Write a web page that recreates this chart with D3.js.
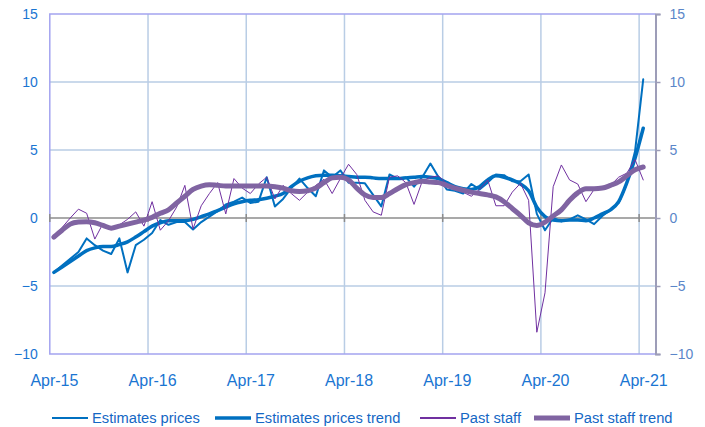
<!DOCTYPE html>
<html>
<head>
<meta charset="utf-8">
<script src="https://cdn.jsdelivr.net/npm/d3@7"></script>
<style>
	body { margin: 0; background: #fff; }
	text { font-family: "Liberation Sans", Arial, sans-serif; }
</style>
</head>
<body>
<div id="chart"></div>
<script>
// tick labels (one per April) and y ticks
var yearLabels = ["Apr-15", "Apr-16", "Apr-17", "Apr-18", "Apr-19", "Apr-20", "Apr-21"];
var yTicks = [-10, -5, 0, 5, 10, 15];

// monthly values, Apr-15 .. Apr-21
var estimatesPrices = [
	-4.0, -3.5, -3.0, -2.5, -1.5, -2.0, -2.4, -2.65, -1.5, -4.0, -2.0, -1.6,
	-1.1, -0.15, -0.5, -0.3, -0.3, -0.85, -0.3, 0.1, 0.5, 1.0, 1.2, 1.5,
	1.1, 1.2, 3.0, 0.85, 1.4, 2.2, 2.9, 2.2, 1.6, 3.5, 3.0, 3.5,
	2.6, 2.6, 2.55, 1.7, 0.85, 3.2, 2.9, 3.0, 2.3, 3.0, 4.0, 3.0,
	2.1, 2.0, 1.8, 2.5, 2.1, 2.6, 3.2, 3.15, 2.7, 2.7, 3.2, 0.3,
	-0.9, 0.0, -0.25, -0.1, 0.2, -0.1, -0.45, 0.15, 0.6, 1.1, 2.55, 4.9,
	10.2
];
var estimatesPricesTrend = [
	-4.0, -3.6, -3.2, -2.8, -2.4, -2.2, -2.1, -2.1, -1.95, -1.75, -1.4, -1.0,
	-0.6, -0.35, -0.2, -0.2, -0.2, -0.1, 0.1, 0.3, 0.55, 0.8, 1.05, 1.2,
	1.3, 1.35, 1.45, 1.6, 1.8, 2.3, 2.7, 2.95, 3.1, 3.15, 3.15, 3.1,
	3.05, 3.0, 3.0, 2.95, 2.9, 2.9, 2.9, 2.95, 3.0, 3.05, 3.0, 2.9,
	2.6, 2.3, 2.15, 2.1, 2.3, 2.8, 3.1, 3.0, 2.8, 2.5, 2.0, 0.8,
	0.1, -0.15, -0.2, -0.15, -0.15, -0.2, 0.0, 0.3, 0.6, 1.2, 2.6, 4.4,
	6.6
];
var pastStaff = [
	-1.4, -0.7, 0.0, 0.65, 0.35, -1.55, -0.4, -0.8, -0.5, -0.1, 0.45, -0.6,
	1.2, -0.9, -0.2, 0.8, 2.4, -0.8, 0.9, 1.8, 2.6, 0.3, 2.9, 2.2,
	1.8, 2.5, 3.0, 1.4, 2.4, 1.8, 1.3, 1.9, 2.4, 2.85, 1.8, 2.9,
	3.95, 3.2, 1.3, 0.45, 0.2, 3.0, 3.1, 2.6, 1.0, 2.7, 3.0, 3.1,
	2.5, 2.1, 1.9, 1.6, 2.1, 2.8, 0.9, 0.9, 1.9, 2.55, 1.3, -8.4,
	-5.5, 2.3, 3.9, 2.8, 2.5, 1.2, 2.1, 2.2, 2.4, 3.0, 3.3, 4.3,
	2.8
];
var pastStaffTrend = [
	-1.4, -0.9, -0.45, -0.3, -0.27, -0.35, -0.55, -0.75, -0.6, -0.45, -0.3, -0.15,
	0.05, 0.35, 0.6, 1.1, 1.6, 2.1, 2.35, 2.45, 2.4, 2.35, 2.35, 2.35,
	2.35, 2.35, 2.35, 2.3, 2.2, 2.0, 1.95, 2.0, 2.2, 2.6, 2.95, 3.0,
	2.8, 2.2, 1.7, 1.5, 1.5, 1.8, 2.15, 2.45, 2.6, 2.7, 2.65, 2.6,
	2.4, 2.2, 2.05, 1.9, 1.8, 1.7, 1.55, 1.2, 0.7, 0.2, -0.35, -0.55,
	-0.3, 0.15, 0.6, 1.3, 1.85, 2.15, 2.15, 2.2, 2.4, 2.65, 3.1, 3.55,
	3.75
];

var series = [
	{name: "Estimates prices", values: estimatesPrices, color: "#0070c0", width: 2, smooth: false},
	{name: "Estimates prices trend", values: estimatesPricesTrend, color: "#0070c0", width: 3.5, smooth: true},
	{name: "Past staff", values: pastStaff, color: "#7030a0", width: 1, smooth: false},
	{name: "Past staff trend", values: pastStaffTrend, color: "#8064a2", width: 5, smooth: true}
];

function makeChart() {
	var plotLeft = 49.8, plotRight = 655.5, plotTop = 14, plotBottom = 354;
	var nMonths = 74; // Apr-15 .. end of May-21

	var svg = d3.select("#chart")
	  .append("svg")
	    .attr("width", 705)
	    .attr("height", 427);

	var x = d3.scaleLinear().domain([0, nMonths]).range([plotLeft, plotRight]);
	var y = d3.scaleLinear().domain([-10, 15]).range([plotBottom, plotTop]);

	//add gridlines
	svg.append("g").selectAll("line")
	    .data([-5, 5, 10])
	  .enter().append("line")
	    .attr("x1", plotLeft).attr("x2", plotRight)
	    .attr("y1", function(d) { return y(d); })
	    .attr("y2", function(d) { return y(d); })
	    .style("stroke", "#b9cde5")
	    .style("stroke-width", "1.5px");
	svg.append("g").selectAll("line")
	    .data(yearLabels.slice(1))
	  .enter().append("line")
	    .attr("x1", function(d, i) { return x((i + 1) * 12); })
	    .attr("x2", function(d, i) { return x((i + 1) * 12); })
	    .attr("y1", plotTop).attr("y2", plotBottom)
	    .style("stroke", "#b9cde5")
	    .style("stroke-width", "1.5px");

	//plot border
	svg.append("path")
	    .attr("d", "M" + plotRight + "," + y(15) + "H" + plotLeft + "V" + y(-10) + "H" + plotRight)
	    .style("fill", "none")
	    .style("stroke", "#a4a4f0")
	    .style("stroke-width", "1.5px");

	//zero line with ticks
	svg.append("line")
	    .attr("x1", plotLeft).attr("x2", plotRight)
	    .attr("y1", y(0)).attr("y2", y(0))
	    .style("stroke", "#8c8c8c")
	    .style("stroke-width", "1.5px");
	svg.append("g").selectAll("line")
	    .data(yearLabels)
	  .enter().append("line")
	    .attr("x1", function(d, i) { return x(i * 12); })
	    .attr("x2", function(d, i) { return x(i * 12); })
	    .attr("y1", y(0) - 4).attr("y2", y(0) + 4)
	    .style("stroke", "#8c8c8c")
	    .style("stroke-width", "1.5px");

	//left axis
	var yLeft = svg.append("g")
	    .attr("transform", "translate(" + plotLeft + ",0)")
	    .call(d3.axisLeft(y).tickValues(yTicks).tickSize(0).tickPadding(12));
	yLeft.select(".domain").remove();
	yLeft.selectAll("text")
	    .style("font-size", "14px")
	    .style("fill", "#1a75d2");

	//right axis
	var yRight = svg.append("g")
	    .attr("transform", "translate(" + plotRight + ",0)")
	    .call(d3.axisRight(y).tickValues(yTicks).tickSize(5).tickPadding(9));
	yRight.select(".domain")
	    .style("stroke", "#9d9db8")
	    .style("stroke-width", "2px");
	yRight.selectAll(".tick line")
	    .style("stroke", "#9d9db8")
	    .style("stroke-width", "1.5px");
	yRight.selectAll("text")
	    .style("font-size", "14px")
	    .style("fill", "#5b86c9");

	//x axis labels
	var xAxis = svg.append("g")
	    .attr("transform", "translate(0," + plotBottom + ")")
	    .call(d3.axisBottom(x)
	      .tickValues(yearLabels.map(function(d, i) { return i * 12 + 0.5; }))
	      .tickFormat(function(d, i) { return yearLabels[i]; })
	      .tickSize(0)
	      .tickPadding(21));
	xAxis.select(".domain").remove();
	xAxis.selectAll("text")
	    .style("font-size", "16px")
	    .style("fill", "#1a75d2");

	//add lines
	series.forEach(function(s) {
		var line = d3.line()
		    .x(function(d, i) { return x(i + 0.5); })
		    .y(function(d) { return y(d); })
		    .curve(s.smooth ? d3.curveMonotoneX : d3.curveLinear);
		svg.append("path")
		    .datum(s.values)
		    .attr("d", line)
		    .style("fill", "none")
		    .style("stroke", s.color)
		    .style("stroke-width", s.width + "px")
		    .style("stroke-linejoin", "round")
		    .style("stroke-linecap", "round");
	});

	//legend
	var legendX = [52, 215, 420, 534];
	var legend = svg.selectAll(".legend")
	    .data(series)
	  .enter().append("g")
	    .attr("class", "legend")
	    .attr("transform", function(d, i) { return "translate(" + legendX[i] + ",418)"; });
	legend.append("line")
	    .attr("x1", 0).attr("x2", 36)
	    .attr("y1", 0).attr("y2", 0)
	    .style("stroke", function(d) { return d.color; })
	    .style("stroke-width", function(d) { return Math.max(d.width, 2) + "px"; });
	legend.append("text")
	    .attr("x", 40)
	    .attr("y", 5)
	    .style("font-size", "14.7px")
	    .style("fill", "#1467c4")
	    .text(function(d) { return d.name; });
}

makeChart();
</script>
</body>
</html>
